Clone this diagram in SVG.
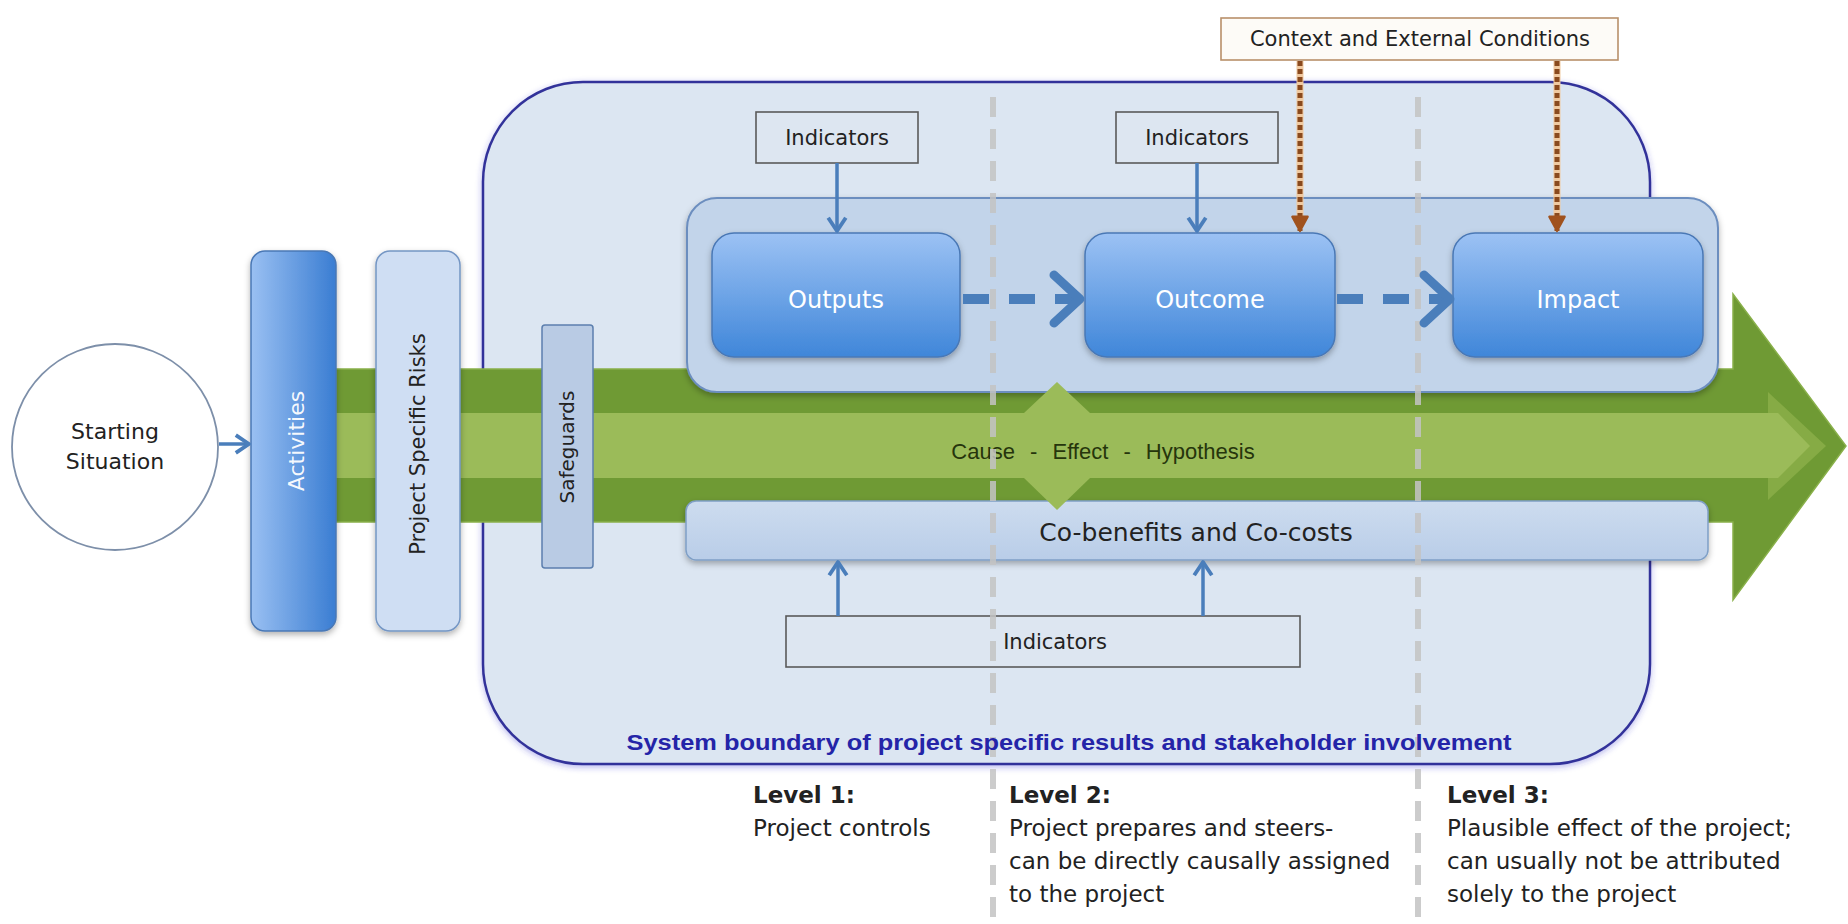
<svg xmlns="http://www.w3.org/2000/svg" width="1848" height="924" viewBox="0 0 1848 924">
<defs>
<linearGradient id="gBox" x1="0" y1="0" x2="0" y2="1">
<stop offset="0" stop-color="#9cc2f4"/>
<stop offset="1" stop-color="#3f86d9"/>
</linearGradient>
<linearGradient id="gAct" x1="0" y1="0" x2="1" y2="0">
<stop offset="0" stop-color="#9ac0f2"/>
<stop offset="1" stop-color="#3a7dd2"/>
</linearGradient>
<linearGradient id="gCo" x1="0" y1="0" x2="0" y2="1">
<stop offset="0" stop-color="#cddcef"/>
<stop offset="1" stop-color="#b9cde8"/>
</linearGradient>
<filter id="sh" x="-10%" y="-10%" width="120%" height="130%">
<feDropShadow dx="0" dy="3" stdDeviation="3" flood-color="#000" flood-opacity="0.3"/>
</filter>
<filter id="glow" x="-5%" y="-5%" width="110%" height="110%">
<feDropShadow dx="0" dy="2" stdDeviation="3" flood-color="#3333cc" flood-opacity="0.35"/>
</filter>
<marker id="chevBlue" viewBox="0 0 20 20" markerWidth="22" markerHeight="22" refX="17" refY="10" orient="auto" markerUnits="userSpaceOnUse">
<path d="M5,2 L17,10 L5,18" fill="none" stroke="#4a7ebb" stroke-width="3.5" stroke-linejoin="round"/>
</marker>
<marker id="chevBrown" viewBox="0 0 20 20" markerWidth="22" markerHeight="22" refX="17" refY="10" orient="auto" markerUnits="userSpaceOnUse">
<path d="M4,3 L17,10 L4,17 Z" fill="#a0521e" stroke="#a0521e" stroke-width="2" stroke-linejoin="round"/>
</marker>
</defs>
<style>
.t{font-family:"DejaVu Sans","Liberation Sans",sans-serif;fill:#222;}
.wt{font-family:"DejaVu Sans","Liberation Sans",sans-serif;fill:#ffffff;}
.ind{fill:#dde6f1;stroke:#5a5a5a;stroke-width:1.6;}
.res{fill:url(#gBox);stroke:#4a78b5;stroke-width:1.5;filter:url(#sh);}
.blue{stroke:#4a7ebb;stroke-width:3.5;fill:none;}
.brownBg{stroke:#f0c9a0;stroke-width:7;fill:none;}
.brown{stroke:#8a4a1e;stroke-width:5;stroke-dasharray:5 3;fill:none;}
.dashA{stroke:#4a7ebb;stroke-width:10;stroke-dasharray:26 20;fill:none;}
.chev{stroke:#4a7ebb;stroke-width:9;fill:none;stroke-linejoin:round;stroke-linecap:round;}
.grid{stroke:#c4c4c4;stroke-width:6;stroke-dasharray:20 12;opacity:0.85;}
</style>
<rect width="1848" height="924" fill="#ffffff"/>

<g id="system-boundary">
<rect x="483" y="82" width="1167" height="682" rx="100" ry="100" fill="#dce6f2" stroke="#33339a" stroke-width="2.5" filter="url(#glow)"/>
</g>

<g id="cause-effect-arrow">
<polygon points="255,369 1733,369 1733,294 1846,446 1733,600 1733,522 255,522" fill="#6f9a34" stroke="#89b04a" stroke-width="1.5"/>
<polygon points="1768,392 1826,446 1768,500" fill="#86ab45"/>
<polygon points="255,413 1778,413 1810,446 1778,478 255,478" fill="#9bbb59"/>
</g>

<g id="starting-situation">
<circle cx="115" cy="447" r="103" fill="#ffffff" stroke="#7d8fa9" stroke-width="1.8"/>
<text class="t" x="115" y="439" font-size="22" text-anchor="middle">Starting</text>
<text class="t" x="115" y="469" font-size="22" text-anchor="middle">Situation</text>
</g>

<g id="activities">
<rect x="251" y="251" width="85" height="380" rx="14" fill="url(#gAct)" stroke="#4a78b5" stroke-width="1.5" filter="url(#sh)"/>
<text class="wt" x="0" y="0" font-size="22" text-anchor="middle" fill-opacity="0.95" transform="translate(304,441) rotate(-90)">Activities</text>
</g>

<g id="project-specific-risks">
<rect x="376" y="251" width="84" height="380" rx="14" fill="#cfdef3" stroke="#7496c4" stroke-width="1.5" filter="url(#sh)"/>
<text class="t" x="0" y="0" font-size="21" text-anchor="middle" transform="translate(425,444) rotate(-90)">Project Specific Risks</text>
</g>

<g id="safeguards">
<rect x="542" y="325" width="51" height="243" rx="3" fill="#b9cbe4" stroke="#5c7fae" stroke-width="1.5"/>
<text class="t" x="0" y="0" font-size="20" text-anchor="middle" transform="translate(574,447) rotate(-90)">Safeguards</text>
</g>

<g id="results-container">
<rect x="687" y="198" width="1031" height="194" rx="30" ry="30" fill="#c2d4ea" stroke="#6c8ebf" stroke-width="2" filter="url(#sh)"/>
</g>

<g id="outputs">
<rect class="res" x="712" y="233" width="248" height="124" rx="22"/>
<text class="wt" x="836" y="308" font-size="24" text-anchor="middle">Outputs</text>
</g>
<g id="outcome">
<rect class="res" x="1085" y="233" width="250" height="124" rx="22"/>
<text class="wt" x="1210" y="308" font-size="24" text-anchor="middle">Outcome</text>
</g>
<g id="impact">
<rect class="res" x="1453" y="233" width="250" height="124" rx="22"/>
<text class="wt" x="1578" y="308" font-size="24" text-anchor="middle">Impact</text>
</g>

<g id="co-benefits">
<rect x="686" y="501" width="1022" height="59" rx="10" fill="url(#gCo)" stroke="#7f9fc6" stroke-width="1.5" filter="url(#sh)"/>
<text class="t" x="1196" y="541" font-size="25" text-anchor="middle">Co-benefits and Co-costs</text>
</g>

<g id="indicators-outputs">
<rect class="ind" x="756" y="112" width="162" height="51"/>
<text class="t" x="837" y="145" font-size="21" text-anchor="middle">Indicators</text>
</g>
<g id="indicators-outcome">
<rect class="ind" x="1116" y="112" width="162" height="51"/>
<text class="t" x="1197" y="145" font-size="21" text-anchor="middle">Indicators</text>
</g>
<g id="indicators-cobenefits">
<rect class="ind" x="786" y="616" width="514" height="51"/>
<text class="t" x="1055" y="649" font-size="21" text-anchor="middle">Indicators</text>
</g>

<g id="context-conditions">
<rect x="1221" y="18" width="397" height="42" fill="#fdfbf7" stroke="#b8906a" stroke-width="1.6"/>
<text class="t" x="1420" y="46" font-size="21" text-anchor="middle">Context and External Conditions</text>
</g>

<g id="hypothesis-marks">
<polygon points="1057,382 1024,413 1090,413" fill="#9bbb59"/>
<polygon points="1057,510 1024,478 1090,478" fill="#9bbb59"/>
<text x="1103" y="459" font-family="Liberation Sans, Arial, sans-serif" font-size="22" fill="#26350c" text-anchor="middle" word-spacing="9">Cause - Effect - Hypothesis</text>
</g>

<g id="level-dividers">
<line class="grid" x1="993" y1="97" x2="993" y2="924"/>
<line class="grid" x1="1418" y1="97" x2="1418" y2="924"/>
</g>

<g id="connectors">
<line class="blue" x1="219" y1="444" x2="249" y2="444" marker-end="url(#chevBlue)"/>
<line class="blue" x1="837" y1="163" x2="837" y2="231" marker-end="url(#chevBlue)"/>
<line class="blue" x1="1197" y1="163" x2="1197" y2="231" marker-end="url(#chevBlue)"/>
<line class="blue" x1="838" y1="616" x2="838" y2="562" marker-end="url(#chevBlue)"/>
<line class="blue" x1="1203" y1="616" x2="1203" y2="562" marker-end="url(#chevBlue)"/>
<line class="brownBg" x1="1300" y1="61" x2="1300" y2="218"/>
<line class="brownBg" x1="1557" y1="61" x2="1557" y2="218"/>
<line class="brown" x1="1300" y1="61" x2="1300" y2="231" marker-end="url(#chevBrown)"/>
<line class="brown" x1="1557" y1="61" x2="1557" y2="231" marker-end="url(#chevBrown)"/>
<line class="dashA" x1="963" y1="299" x2="1080" y2="299"/>
<polyline class="chev" points="1054,275 1080,299 1054,323"/>
<line class="dashA" x1="1337" y1="299" x2="1449" y2="299"/>
<polyline class="chev" points="1424,275 1450,299 1424,323"/>
</g>

<g id="labels">
<text x="1069" y="750" font-family="Liberation Sans, Arial, sans-serif" font-size="22" font-weight="bold" fill="#2424a8" text-anchor="middle" textLength="885" lengthAdjust="spacingAndGlyphs">System boundary of project specific results and stakeholder involvement</text>
<text class="t" x="753" y="803" font-size="23" font-weight="bold">Level 1:</text>
<text class="t" x="753" y="836" font-size="23">Project controls</text>
<text class="t" x="1009" y="803" font-size="23" font-weight="bold">Level 2:</text>
<text class="t" x="1009" y="836" font-size="23">Project prepares and steers-</text>
<text class="t" x="1009" y="869" font-size="23">can be directly causally assigned</text>
<text class="t" x="1009" y="902" font-size="23">to the project</text>
<text class="t" x="1447" y="803" font-size="23" font-weight="bold">Level 3:</text>
<text class="t" x="1447" y="836" font-size="23">Plausible effect of the project;</text>
<text class="t" x="1447" y="869" font-size="23">can usually not be attributed</text>
<text class="t" x="1447" y="902" font-size="23">solely to the project</text>
</g>
</svg>
